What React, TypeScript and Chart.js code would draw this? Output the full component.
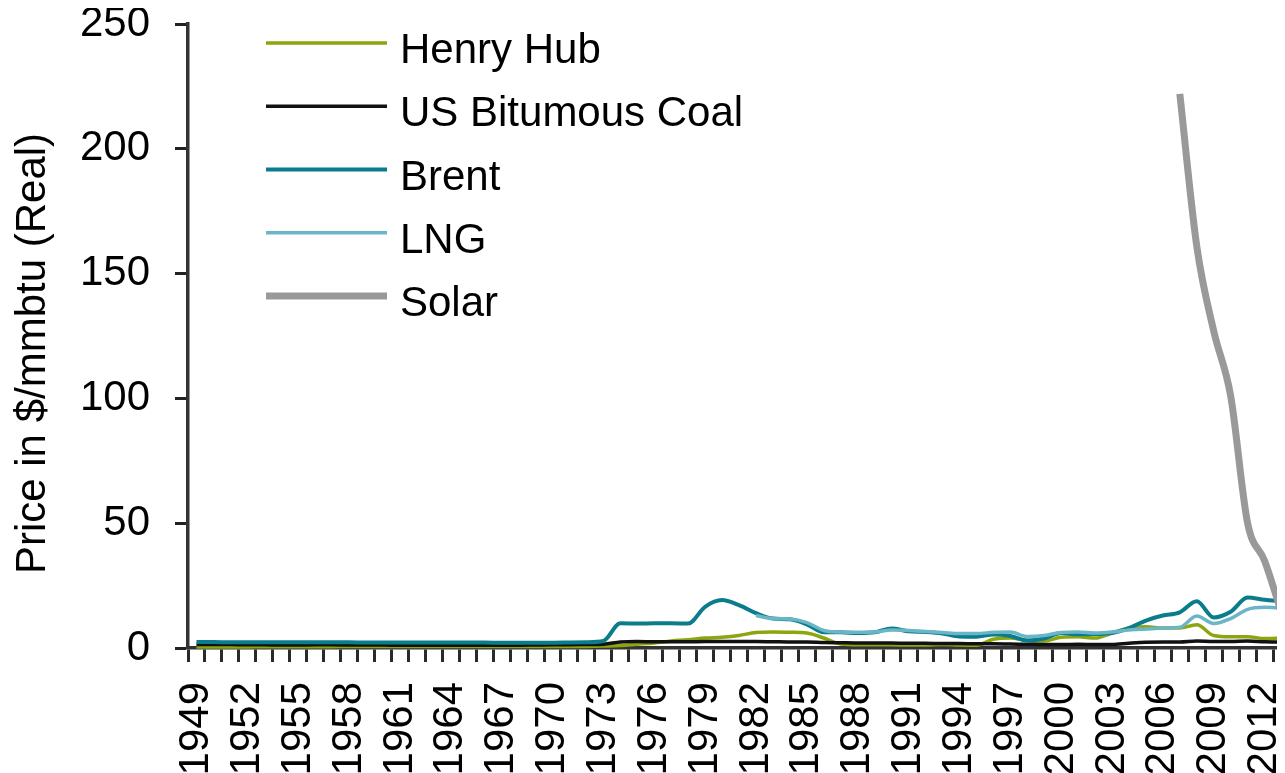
import React, { useEffect, useRef } from "react";
import { Chart, registerables } from "chart.js";

Chart.register(...registerables);

const years: string[] = [
  "1949", "1950", "1951", "1952", "1953", "1954", "1955", "1956", "1957", "1958",
  "1959", "1960", "1961", "1962", "1963", "1964", "1965", "1966", "1967", "1968",
  "1969", "1970", "1971", "1972", "1973", "1974", "1975", "1976", "1977", "1978",
  "1979", "1980", "1981", "1982", "1983", "1984", "1985", "1986", "1987", "1988",
  "1989", "1990", "1991", "1992", "1993", "1994", "1995", "1996", "1997", "1998",
  "1999", "2000", "2001", "2002", "2003", "2004", "2005", "2006", "2007", "2008",
  "2009", "2010", "2011", "2012", "2013",
];

const henryHub: number[] = [
  0.4, 0.4, 0.45, 0.45, 0.5, 0.5, 0.5, 0.55, 0.55, 0.6,
  0.6, 0.6, 0.6, 0.65, 0.65, 0.6, 0.6, 0.6, 0.6, 0.6,
  0.6, 0.6, 0.6, 0.65, 0.8, 1.0, 1.5, 2.0, 2.8, 3.3,
  4.0, 4.3, 5.0, 6.2, 6.4, 6.3, 6.0, 4.0, 1.6, 1.3,
  1.3, 1.3, 1.2, 1.2, 1.4, 1.2, 1.1, 3.5, 4.0, 3.0,
  2.8, 4.3, 4.5, 4.0, 6.0, 8.0, 8.5, 8.0, 8.0, 9.3,
  5.0, 4.5, 4.5, 3.8, 4.0,
];

const usCoal: number[] = [
  1.4, 1.4, 1.4, 1.3, 1.3, 1.2, 1.2, 1.3, 1.3, 1.2,
  1.2, 1.2, 1.1, 1.1, 1.1, 1.1, 1.1, 1.1, 1.1, 1.1,
  1.2, 1.3, 1.3, 1.4, 1.5, 2.4, 2.6, 2.5, 2.5, 2.5,
  2.6, 2.6, 2.6, 2.6, 2.5, 2.4, 2.4, 2.2, 2.1, 2.0,
  2.0, 2.0, 1.9, 1.9, 1.8, 1.8, 1.7, 1.7, 1.6, 1.5,
  1.4, 1.4, 1.5, 1.4, 1.4, 1.9, 2.3, 2.4, 2.4, 2.8,
  2.6, 2.6, 2.8, 2.5, 2.4,
];

const brent: number[] = [
  2.4, 2.4, 2.3, 2.3, 2.3, 2.3, 2.3, 2.3, 2.3, 2.3,
  2.2, 2.2, 2.2, 2.2, 2.2, 2.2, 2.2, 2.2, 2.1, 2.1,
  2.1, 2.1, 2.2, 2.3, 2.8, 9.9, 9.8, 9.9, 9.9, 9.8,
  16.5, 19.2, 17.2, 14.0, 11.8, 11.5, 9.5, 6.3, 6.3, 6.0,
  6.3, 7.8, 6.7, 6.4, 5.8, 4.6, 4.5, 5.4, 4.8, 3.0,
  3.8, 6.0, 5.5, 5.6, 6.0, 8.0, 11.0, 13.0, 14.3, 18.7,
  12.2, 14.5, 20.2, 19.3, 18.8,
];

const lng: (number | null)[] = [
  null, null, null, null, null, null, null, null, null, null,
  null, null, null, null, null, null, null, null, null, null,
  null, null, null, null, null, null, null, null, null, null,
  null, null, null, 13.0, 11.8, 11.6, 10.2, 7.0, 6.4, 6.3,
  6.4, 7.2, 7.0, 6.6, 6.2, 5.8, 5.8, 6.3, 6.4, 4.6,
  5.0, 6.2, 6.4, 6.0, 6.4, 7.2, 7.6, 8.0, 8.3, 12.8,
  9.8, 11.8, 15.5, 16.3, 16.0,
];

const solar: (number | null)[] = [
  null, null, null, null, null, null, null, null, null, null,
  null, null, null, null, null, null, null, null, null, null,
  null, null, null, null, null, null, null, null, null, null,
  null, null, null, null, null, null, null, null, null, null,
  null, null, null, null, null, null, null, null, null, null,
  null, null, null, null, null, null, null, null, 222, 161,
  127, 101, 50, 35, 14,
];

const seriesLabels: string[] = ["Henry Hub", "US Bitumous Coal", "Brent", "LNG", "Solar"];
const yTitle = "Price in $/mmbtu (Real)";

const FONT = '"Liberation Sans", Arial, Helvetica, sans-serif';

const insideLegend = {
  id: "insideLegend",
  afterDraw(chart: any) {
    const ctx = chart.ctx as CanvasRenderingContext2D;
    const area = chart.chartArea;
    const ds = chart.data.datasets;
    ctx.save();
    ds.forEach((d: any, i: number) => {
      const y = area.top + 19 + i * 63.25;
      ctx.beginPath();
      ctx.strokeStyle = d.borderColor;
      ctx.lineWidth = d.borderWidth;
      ctx.lineCap = "butt";
      ctx.moveTo(area.left + 78, y);
      ctx.lineTo(area.left + 199, y);
      ctx.stroke();
      ctx.fillStyle = "#000";
      ctx.font = `42px ${FONT}`;
      ctx.textAlign = "left";
      ctx.textBaseline = "alphabetic";
      ctx.fillText(d.label, area.left + 212, y + 20);
    });
    ctx.restore();
  },
};

export default function App() {
  const ref = useRef<HTMLCanvasElement | null>(null);

  useEffect(() => {
    if (!ref.current) return;
    const line = (label: string, data: (number | null)[], color: string, width: number, order: number) => ({
      label,
      data,
      borderColor: color,
      backgroundColor: color,
      borderWidth: width,
      pointRadius: 0,
      pointHoverRadius: 0,
      cubicInterpolationMode: "monotone" as const,
      fill: false,
      spanGaps: false,
      order,
      clip: 6,
    });
    const chart = new Chart(ref.current, {
      type: "line",
      data: {
        labels: years,
        datasets: [
          line(seriesLabels[0], henryHub, "#8BA60F", 3.5, 4),
          line(seriesLabels[1], usCoal, "#111111", 3.5, 3),
          line(seriesLabels[2], brent, "#0A7C8C", 4, 2),
          line(seriesLabels[3], lng, "#6AB6C6", 3.5, 1),
          line(seriesLabels[4], solar, "#999999", 7, 0),
        ],
      },
      options: {
        responsive: false,
        animation: false,
        devicePixelRatio: 1,
        layout: { padding: { top: 16, left: 0, right: 0, bottom: 0 } },
        plugins: {
          legend: { display: false },
          title: { display: false },
          tooltip: { enabled: false },
        },
        scales: {
          x: {
            type: "category",
            offset: true,
            grid: {
              display: true,
              drawOnChartArea: false,
              drawTicks: true,
              tickLength: 14,
              tickWidth: 3,
              tickColor: "#2a2a2a",
              offset: true,
            },
            border: { display: true, color: "#333333", width: 3.5 },
            ticks: {
              autoSkip: false,
              maxRotation: 90,
              minRotation: 90,
              padding: 20,
              color: "#000",
              font: { family: FONT, size: 42 },
              callback: (_v: any, i: number) => (i % 3 === 0 ? years[i] : ""),
            },
            afterFit: (s: any) => {
              s.height = 130;
              s.paddingLeft = 0;
              s.paddingRight = 0;
            },
          },
          y: {
            min: 0,
            max: 250,
            grid: {
              display: true,
              drawOnChartArea: false,
              drawTicks: true,
              tickLength: 13,
              tickWidth: 3,
              tickColor: "#222222",
            },
            border: { display: true, color: "#333333", width: 3.5 },
            ticks: {
              stepSize: 50,
              padding: 25,
              color: "#000",
              font: { family: FONT, size: 42 },
            },
            title: {
              display: true,
              text: yTitle + "   ",
              color: "#000",
              font: { family: FONT, size: 42 },
              padding: { top: 0, bottom: 0 },
            },
            afterFit: (s: any) => {
              s.width = 180;
              s.paddingTop = 0;
              s.paddingBottom = 0;
            },
          },
        },
      },
      plugins: [insideLegend],
    });
    return () => chart.destroy();
  }, []);

  return (
    <div style={{ width: 1282, height: 770 }}>
      <canvas ref={ref} width={1282} height={770} style={{ display: "block" }} />
    </div>
  );
}
